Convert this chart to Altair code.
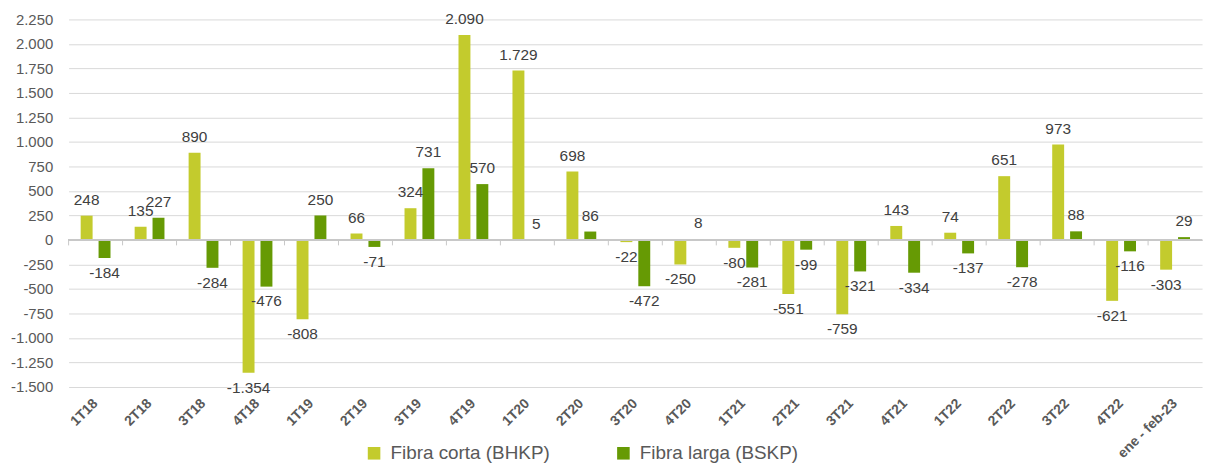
import altair as alt
import pandas as pd

categories = ["1T18", "2T18", "3T18", "4T18", "1T19", "2T19", "3T19", "4T19",
              "1T20", "2T20", "3T20", "4T20", "1T21", "2T21", "3T21", "4T21",
              "1T22", "2T22", "3T22", "4T22", "ene - feb-23"]
corta = [248, 135, 890, -1354, -808, 66, 324, 2090, 1729, 698, -22, -250,
         -80, -551, -759, 143, 74, 651, 973, -621, -303]
larga = [-184, 227, -284, -476, 250, -71, 731, 570, 5, 86, -472, 8,
         -281, -99, -321, -334, -137, -278, 88, -116, 29]
series_names = ["Fibra corta (BHKP)", "Fibra larga (BSKP)"]
colors = ["#C3CB2D", "#669A04"]
y_ticks = list(range(-1500, 2251, 250))

rows = []
for c, a, b in zip(categories, corta, larga):
    rows.append({"cat": c, "serie": series_names[0], "valor": a})
    rows.append({"cat": c, "serie": series_names[1], "valor": b})
df = pd.DataFrame(rows)

FONT = "Liberation Sans"
GREY = "#595959"
fmt_expr = "replace(replace(format({v}, ','), ',', '.'), '\u2212', '-')"

x_scale = alt.Scale(domain=categories, paddingInner=0, paddingOuter=0)
y_scale = alt.Scale(domain=[-1500, 2250], nice=False, zero=False)
x_axis = alt.Axis(title=None, labelAngle=-45, labelAlign="right",
                  labelBaseline="middle", labelFont=FONT, labelFontSize=14,
                  labelFontWeight="bold", labelColor=GREY, domain=False,
                  ticks=False, labelPadding=14, grid=False)
y_axis = alt.Axis(title=None, values=y_ticks, labelOverlap=False,
                  labelExpr=fmt_expr.format(v="datum.value"),
                  labelFont=FONT, labelFontSize=15, labelColor=GREY,
                  labelPadding=16, domain=False, ticks=False,
                  gridColor="#D9D9D9", gridWidth=1)

x = alt.X("cat:N", sort=categories, scale=x_scale, axis=x_axis)
xo = alt.XOffset("serie:N", sort=series_names,
                 scale=alt.Scale(domain=series_names, paddingInner=1/3, paddingOuter=0.675))
y = alt.Y("valor:Q", scale=y_scale, axis=y_axis)

base = alt.Chart(df).transform_calculate(lbl=fmt_expr.format(v="datum.valor"))

bars = base.mark_bar().encode(
    x=x, xOffset=xo, y=y,
    color=alt.Color("serie:N", sort=series_names,
                    scale=alt.Scale(domain=series_names, range=colors),
                    legend=alt.Legend(title=None, orient="none", direction="horizontal",
                                      legendX=298, legendY=427, symbolType="square",
                                      symbolSize=160, symbolStrokeWidth=0,
                                      labelFont=FONT, labelFontSize=19,
                                      labelColor=GREY, columnPadding=64,
                                      labelOffset=7, labelLimit=400)))

txt_pos = base.transform_filter("datum.valor >= 0").mark_text(
    baseline="bottom", dy=-8, font=FONT, fontSize=15.5, color="#404040").encode(
    x=x, xOffset=xo, y=y, text="lbl:N")
txt_neg = base.transform_filter("datum.valor < 0").mark_text(
    baseline="top", dy=8, font=FONT, fontSize=15.5, color="#404040").encode(
    x=x, xOffset=xo, y=y, text="lbl:N")

cat_df = pd.DataFrame({"cat": categories, "zero": [0] * len(categories),
                       "tick_end": [-55] * len(categories)})
zero_line = alt.Chart(cat_df).mark_rule(color="#C8C8C8", strokeWidth=1).encode(
    y=alt.Y("zero:Q", scale=y_scale, axis=y_axis))
ticks = alt.Chart(cat_df).mark_rule(color="#C8C8C8", strokeWidth=1).encode(
    x=alt.X("cat:N", sort=categories, bandPosition=0, scale=x_scale, axis=x_axis),
    y=alt.Y("zero:Q", scale=y_scale, axis=y_axis), y2="tick_end:Q")

chart = alt.layer(bars, zero_line, ticks, txt_pos, txt_neg).properties(
    width=1141, height=370,
    autosize=alt.AutoSizeParams(type="none"),
    padding={"left": 61, "top": 10, "right": 9, "bottom": 75},
    background="white",
).configure_view(stroke=None)

chart.save("out.html", embed_options={"renderer": "svg", "actions": False})
